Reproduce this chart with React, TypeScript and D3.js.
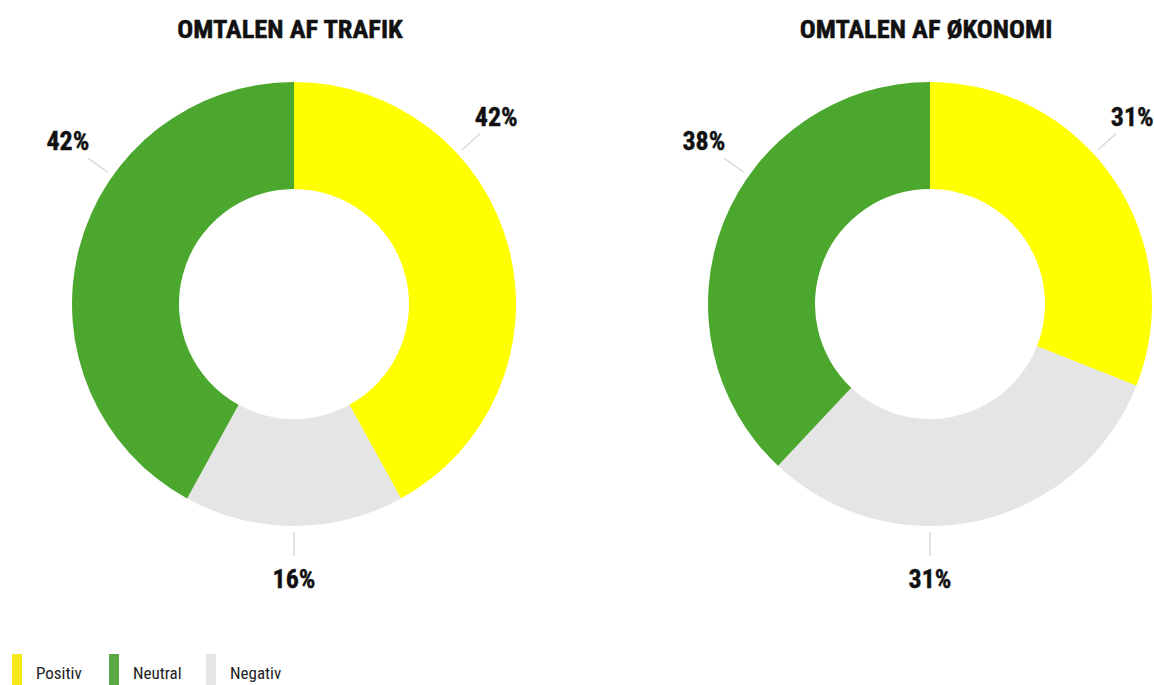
import React from "react";
import * as d3 from "d3";

const categories = ["Positiv", "Negativ", "Neutral"];
const legendOrder = ["Positiv", "Neutral", "Negativ"];
const colors: Record<string, string> = { Positiv: "#ffff00", Neutral: "#4ca72f", Negativ: "#e5e5e5" };
const legendColors: Record<string, string> = { Positiv: "#f7e81c", Neutral: "#5aa845", Negativ: "#e5e5e5" };
const titles = ["OMTALEN AF TRAFIK", "OMTALEN AF ØKONOMI"];
const trafikValues = [42, 16, 42];
const oekonomiValues = [31, 31, 38];
const labelAngles = [47.5, 180, 305.3]; // degrees clockwise from top
const charts = [trafikValues, oekonomiValues];

const W = 1154, H = 685;
const FONT = "'Liberation Sans Narrow', 'Roboto Condensed', 'Arial Narrow', sans-serif";

export default function App() {
  const cx = d3.scalePoint<number>().domain([0, 1]).range([294, 930]);
  const cy = 304;
  const outerR = 222;
  const innerR = 115;
  const pie = d3.pie<number>().value((d) => d).sort(null);
  const arc = d3.arc<d3.PieArcDatum<number>>().innerRadius(innerR).outerRadius(outerR);
  const pt = (angDeg: number, r: number) => {
    const a = (angDeg * Math.PI) / 180;
    return [Math.sin(a) * r, -Math.cos(a) * r];
  };
  return (
    <svg width={W} height={H} style={{ position: "absolute", left: 0, top: 0, background: "#fff" }}>
      {charts.map((vals, ci) => {
        const x0 = cx(ci)!;
        const arcs = pie(vals);
        return (
          <g key={ci}>
            <text x={x0 - 4} y={38} textAnchor="middle" fontFamily={FONT} fontWeight={700} fontSize={26.5} fill="#111" stroke="#111" strokeWidth={0.5}>
              {titles[ci]}
            </text>
            <g transform={`translate(${x0},${cy})`}>
              {arcs.map((a, i) => (
                <path key={i} d={arc(a)!} fill={colors[categories[i]]} />
              ))}
              {arcs.map((a, i) => {
                const ang = labelAngles[i];
                const [x1, y1] = pt(ang, 228);
                const [x2, y2] = pt(ang, 252);
                const side = Math.abs(ang - 180) < 10 ? 0 : ang < 180 ? 1 : -1;
                let tx: number, ty: number, anchor: string;
                if (side === 0) {
                  [tx, ty] = pt(ang, 275);
                  anchor = "middle";
                } else {
                  tx = x2 + (side === 1 ? -5 : 1);
                  ty = y2 - 17;
                  anchor = side === 1 ? "start" : "end";
                }
                return (
                  <g key={"l" + i}>
                    <line x1={x1} y1={y1} x2={x2} y2={y2} stroke="#d9d9d9" strokeWidth={1.5} />
                    <text x={tx} y={ty} textAnchor={anchor} dominantBaseline="central" fontFamily={FONT} fontWeight={700} fontSize={26} fill="#111" stroke="#111" strokeWidth={0.4}>
                      {`${vals[i]}%`}
                    </text>
                  </g>
                );
              })}
            </g>
          </g>
        );
      })}
      {legendOrder.map((c, i) => {
        const lx = 12 + i * 97;
        return (
          <g key={c}>
            <rect x={lx} y={654} width={10} height={31} fill={legendColors[c]} />
            <text x={lx + 24} y={679} fontFamily={FONT} fontSize={17} fill="#222">
              {c}
            </text>
          </g>
        );
      })}
    </svg>
  );
}
